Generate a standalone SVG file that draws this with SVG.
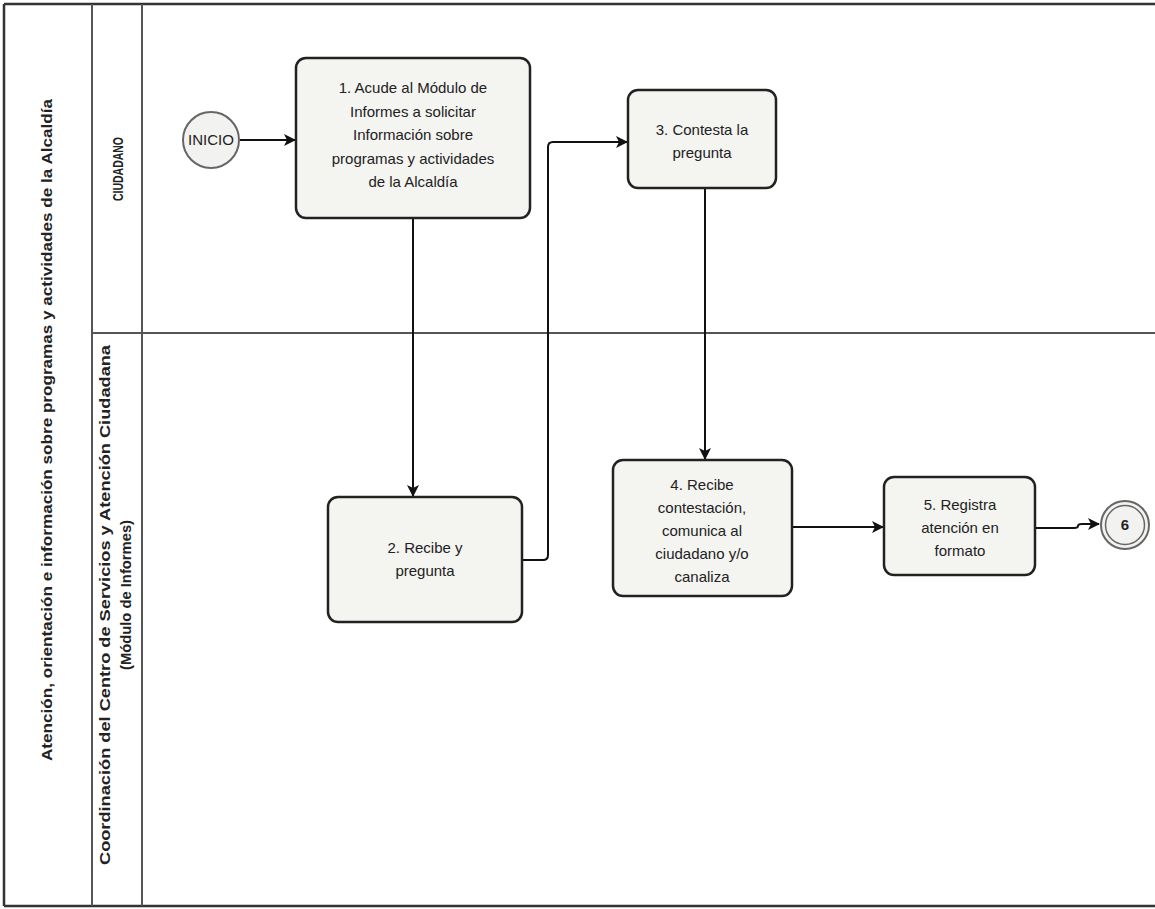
<svg xmlns="http://www.w3.org/2000/svg" width="1155" height="909" viewBox="0 0 1155 909">
  <defs>
    <marker id="arrow" viewBox="0 0 12 12" refX="11" refY="6" markerWidth="12" markerHeight="12" markerUnits="userSpaceOnUse" orient="auto">
      <path d="M0,0 L12,6 L0,12 L3,6 Z" fill="#111"/>
    </marker>
  </defs>
  <style>
    .frame { fill: none; stroke: #333; stroke-width: 2.5; }
    .lane { fill: none; stroke: #555; stroke-width: 2; }
    .task { fill: #f4f4f1; stroke: #222; stroke-width: 2.5; }
    .event { fill: #f2f2f0; stroke: #666; stroke-width: 2; }
    .edge { fill: none; stroke: #111; stroke-width: 2; marker-end: url(#arrow); }
    .label { font-family: "Liberation Sans", Arial, sans-serif; font-size: 15px; fill: #222; text-anchor: middle; }
    .head { font-family: "Liberation Sans", Arial, sans-serif; font-size: 15.5px; font-weight: bold; fill: #222; text-anchor: middle; }
  </style>

  <rect width="1155" height="909" fill="#ffffff"/>

  <!-- Pool and lanes -->
  <g id="pool">
    <line class="frame" x1="4" y1="4" x2="1155" y2="4"/>
    <line class="frame" x1="4" y1="906" x2="1155" y2="906"/>
    <line class="frame" x1="4" y1="4" x2="4" y2="906"/>
    <line class="lane" x1="92" y1="4" x2="92" y2="906"/>
    <line class="lane" x1="142" y1="4" x2="142" y2="906"/>
    <line class="lane" x1="92" y1="333" x2="1155" y2="333"/>
    <text class="head" transform="translate(52,430) rotate(-90)" textLength="662" lengthAdjust="spacingAndGlyphs">Atención, orientación e información sobre programas y actividades de la Alcaldía</text>
  </g>
  <g id="lane-ciudadano">
    <text class="head" transform="translate(123,169) rotate(-90)" textLength="64" lengthAdjust="spacingAndGlyphs">CIUDADANO</text>
  </g>
  <g id="lane-coordinacion">
    <text class="head" transform="translate(110,605) rotate(-90)" textLength="520" lengthAdjust="spacingAndGlyphs">Coordinación del Centro de Servicios y Atención Ciudadana</text>
    <text class="head" transform="translate(131,595) rotate(-90)" textLength="150" lengthAdjust="spacingAndGlyphs">(Módulo de Informes)</text>
  </g>

  <!-- Connectors -->
  <g id="connectors">
    <line class="edge" x1="240" y1="140" x2="295" y2="140"/>
    <line class="edge" x1="413" y1="219" x2="413" y2="496"/>
    <path class="edge" d="M522,560 L543,560 Q548,560 548,555 L548,147 Q548,142 553,142 L627,142"/>
    <line class="edge" x1="705" y1="189" x2="705" y2="459"/>
    <line class="edge" x1="792" y1="527" x2="883" y2="527"/>
    <path class="edge" d="M1035,528 L1074,528 Q1078,528 1078,526 Q1078,524 1082,524 L1099,524"/>
  </g>

  <!-- Nodes -->
  <g id="inicio">
    <circle class="event" cx="211" cy="140" r="28"/>
    <text class="label" x="211" y="145" font-size="13" textLength="46" lengthAdjust="spacingAndGlyphs">INICIO</text>
  </g>
  <g id="task-1">
    <rect class="task" x="296" y="58" width="234" height="160" rx="10"/>
    <text class="label" x="413" y="93">1. Acude al Módulo de</text>
    <text class="label" x="413" y="117">Informes a solicitar</text>
    <text class="label" x="413" y="140">Información sobre</text>
    <text class="label" x="413" y="164">programas y actividades</text>
    <text class="label" x="413" y="187">de la Alcaldía</text>
  </g>
  <g id="task-2">
    <rect class="task" x="328" y="497" width="194" height="125" rx="10"/>
    <text class="label" x="425" y="553">2. Recibe y</text>
    <text class="label" x="425" y="576">pregunta</text>
  </g>
  <g id="task-3">
    <rect class="task" x="628" y="90" width="148" height="98" rx="10"/>
    <text class="label" x="702" y="135">3. Contesta la</text>
    <text class="label" x="702" y="158">pregunta</text>
  </g>
  <g id="task-4">
    <rect class="task" x="613" y="460" width="179" height="136" rx="10"/>
    <text class="label" x="702" y="490">4. Recibe</text>
    <text class="label" x="702" y="513">contestación,</text>
    <text class="label" x="702" y="536">comunica al</text>
    <text class="label" x="702" y="559">ciudadano y/o</text>
    <text class="label" x="702" y="582">canaliza</text>
  </g>
  <g id="task-5">
    <rect class="task" x="884" y="477" width="151" height="98" rx="10"/>
    <text class="label" x="960" y="510">5. Registra</text>
    <text class="label" x="960" y="533">atención en</text>
    <text class="label" x="960" y="556">formato</text>
  </g>
  <g id="fin-6">
    <circle class="event" cx="1125" cy="525" r="24"/>
    <circle cx="1125" cy="525" r="19.5" fill="none" stroke="#666" stroke-width="1.5"/>
    <text class="label" x="1125" y="530" font-weight="bold" font-size="13">6</text>
  </g>
</svg>
